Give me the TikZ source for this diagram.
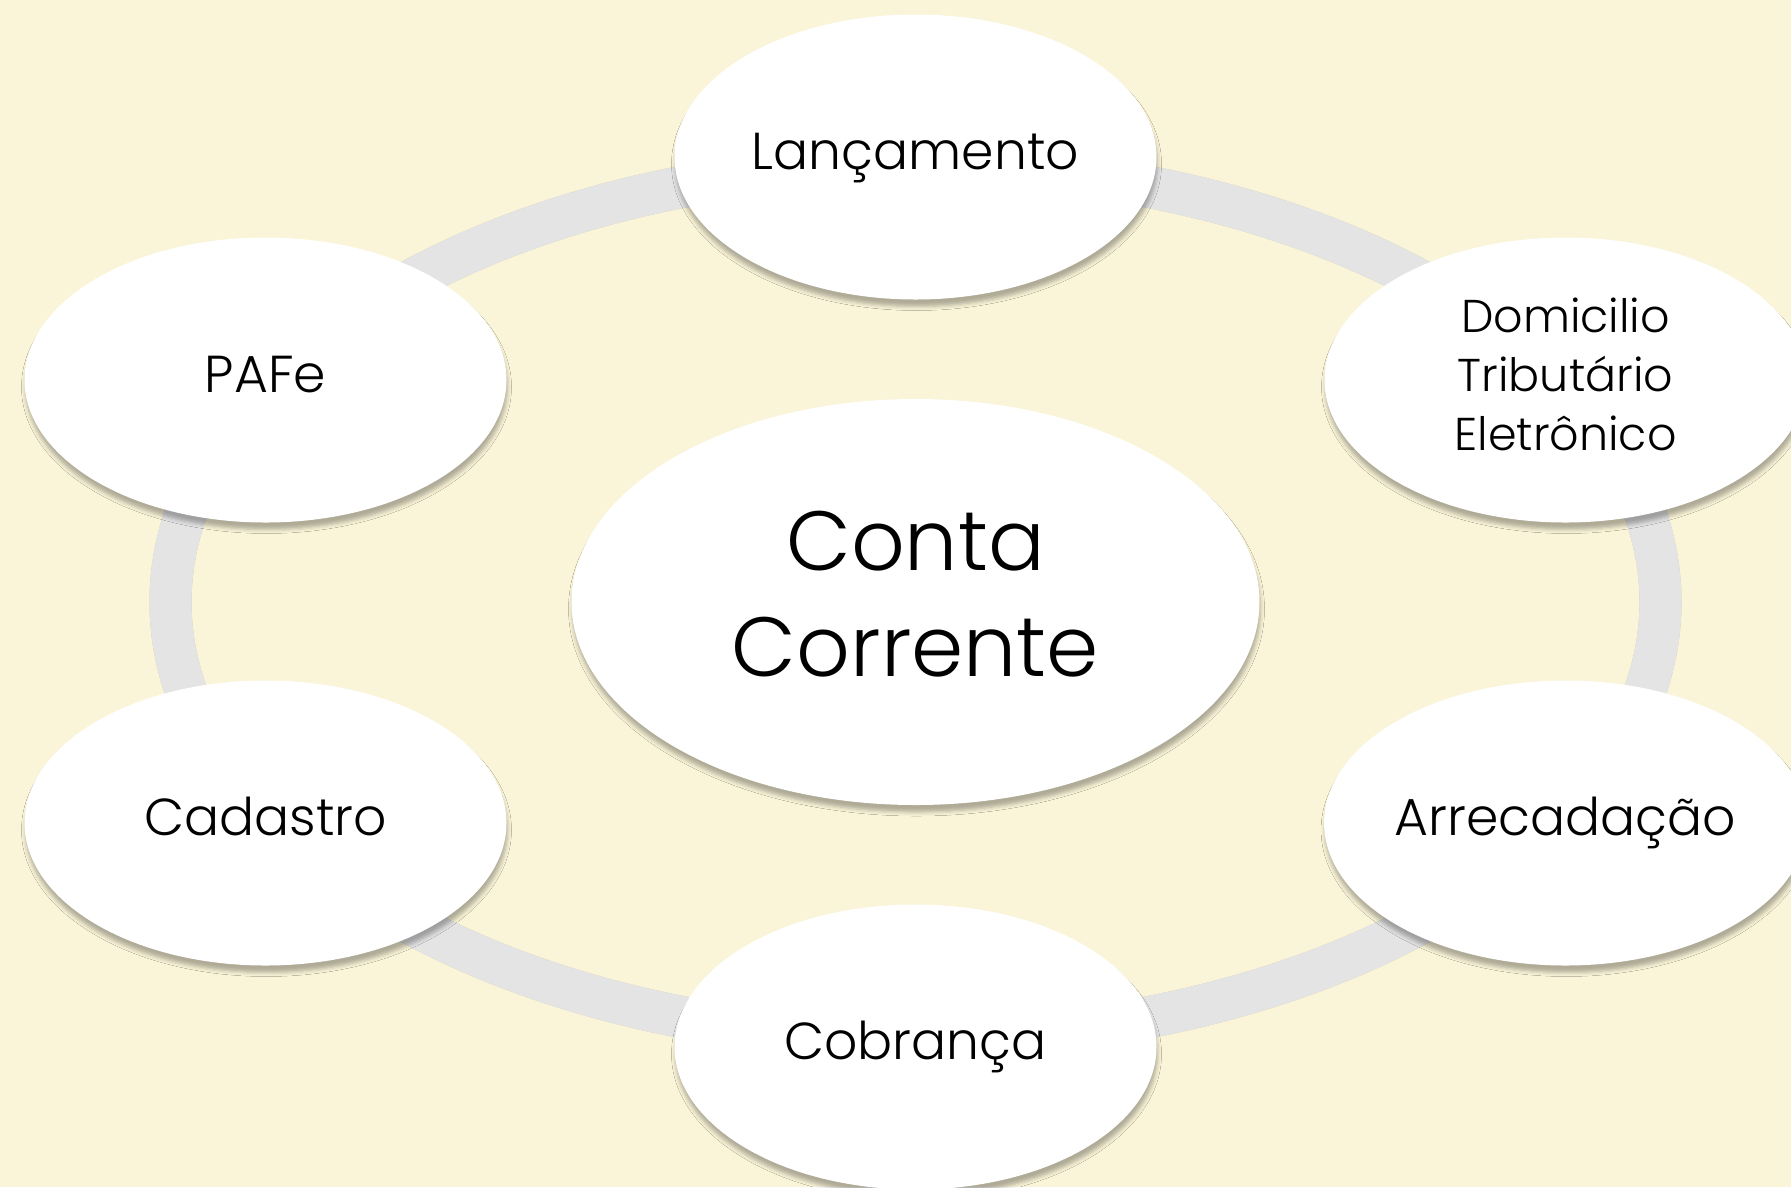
\documentclass[tikz,border=0pt]{standalone}
\usepackage{fontspec}
\setmainfont{Poppins}[UprightFont=* Light]
\usetikzlibrary{shapes.geometric,shadows.blur}

\definecolor{creme}{RGB}{250,244,216}
\definecolor{anel}{RGB}{228,228,228}
\definecolor{anelsombra}{RGB}{200,196,176}

\newcommand{\linhas}[1]{\begin{tabular}{@{}c@{}}#1\end{tabular}}

\tikzset{
  bolha/.style={ellipse, fill=white, inner sep=0pt,
    minimum width=482pt, minimum height=285pt,
    blur shadow={shadow xshift=1pt, shadow yshift=-7pt, shadow blur radius=4pt, shadow opacity=30}},
  simples/.style={bolha, text height=36pt, text depth=12pt,
    font=\fontsize{52}{62}\selectfont},
  centro/.style={bolha, minimum width=688pt, minimum height=406pt,
    font=\fontsize{84}{106}\selectfont},
  anel/.style={line width=42pt, draw=anel}
}

\begin{document}
\begin{tikzpicture}[x=1pt,y=1pt,yscale=-1,xscale=1]
        % background
        \fill [creme] (0,0) rectangle (1791,1187);
        \useasboundingbox (0,0) rectangle (1791,1187);

        % center
        \coordinate (o) at (915.5,602);

        % ring
        \draw [anel, draw=anelsombra, shift={(2,4)}] (o) ellipse [x radius=745, y radius=437];
        \draw [anel] (o) ellipse [x radius=745, y radius=437];

        % nodes
        \node [centro] (cc) at (o) {\linhas{Conta\\Corrente}};
        \node [simples] (lanc) at (915.5,157) {Lançamento};
        \node [bolha, font=\fontsize{46}{59}\selectfont] (dom) at (1565.5,380) {\linhas{Domicilio\\Tributário\\Eletrônico}};
        \node [simples] (arre) at (1565.5,823) {Arrecadação};
        \node [simples] (cobr) at (915.5,1047) {Cobrança};
        \node [simples] (cad) at (265.5,823) {Cadastro};
        \node [simples] (pafe) at (265.5,380) {PAFe};

\end{tikzpicture}
\end{document}
